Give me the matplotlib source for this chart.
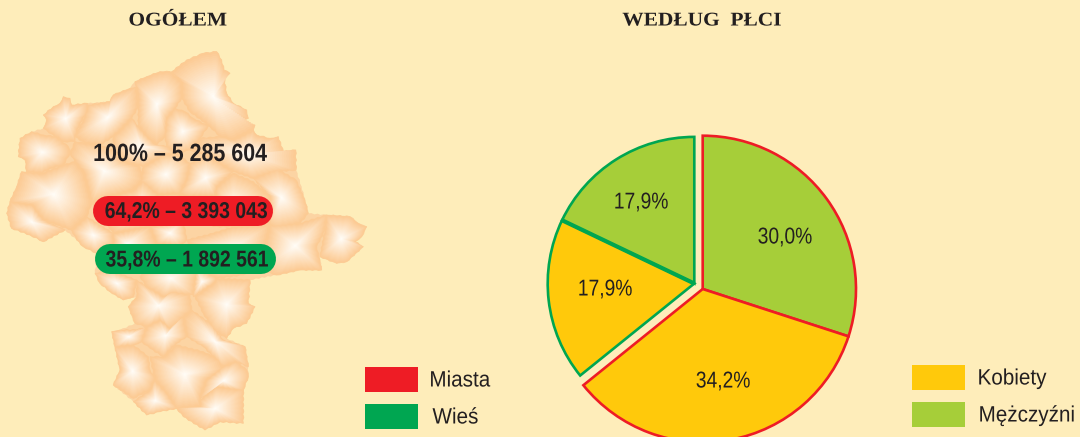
import matplotlib
matplotlib.use('Agg')
import matplotlib.pyplot as plt
import numpy as np
from matplotlib.patches import Polygon, Rectangle
from matplotlib.patheffects import AbstractPathEffect
from matplotlib.transforms import Affine2D

W, H = 1080, 437

# -- data ---------------------------------------------------------------
total_label = '100% – 5 285 604'
urban_label = '64,2% – 3 393 043'
rural_label = '35,8% – 1 892 561'

urban_shares = [30.0, 34.2]   # mezczyzni, kobiety
rural_shares = [17.9, 17.9]   # kobiety, mezczyzni

titles = ['OGÓŁEM', 'WEDŁUG  PŁCI']
legend_left = ['Miasta', 'Wieś']
legend_right = ['Kobiety', 'Mężczyźni']

# map traced at 3x zoom (x/3, y/3 + 40 gives pixels): the whole outline, then districts
outline = [(515,95),(560,60),(610,40),(650,35),(665,60),(672,90),(690,100),(672,110),(680,160),(700,190),(740,210),(745,235),(730,240),(735,255),(765,255),(760,270),(770,285),(810,295),(835,290),(850,335),(887,330),(888,390),(905,440),(925,520),(980,525),(1050,530),(1075,550),(1100,560),(1085,590),(1065,605),(1090,620),(1040,665),(1010,670),(960,650),(965,690),(900,690),(830,705),(750,720),(745,790),(765,800),(740,850),(700,865),(680,895),(735,920),(745,980),(745,1010),(730,1050),(730,1150),(660,1145),(615,1170),(550,1130),(530,1105),(480,1115),(440,1125),(400,1085),(340,1035),(360,990),(345,920),(335,875),(360,870),(405,850),(385,800),(410,770),(370,780),(330,755),(285,700),(290,640),(250,620),(230,600),(195,570),(130,605),(90,585),(35,565),(20,520),(30,485),(50,440),(65,395),(80,395),(75,360),(55,350),(60,295),(95,275),(130,265),(140,240),(130,225),(160,200),(180,190),(190,170),(210,175),(215,195),(262,190),(330,185),(340,165),(390,145),(405,125),(440,110),(480,95)]

districts = [
    [(515,95),(560,60),(610,40),(650,35),(665,60),(672,90),(690,100),(672,110),(680,160),(700,190),(740,210),(745,235),(730,240),(735,255),(765,255),(760,270),(700,300),(660,290),(630,260),(570,215),(545,175),(545,125)],
    [(570,330),(600,295),(660,290),(700,300),(760,270),(770,285),(810,295),(835,290),(850,335),(887,330),(888,390),(830,395),(760,415),(700,395),(660,370),(620,345)],
    [(405,125),(440,110),(480,95),(510,95),(545,125),(545,175),(525,205),(500,235),(495,290),(470,315),(445,295),(415,260),(415,160)],
    [(525,205),(555,215),(580,235),(625,258),(600,295),(570,330),(530,340),(500,320),(495,290),(500,235)],
    [(265,195),(330,185),(340,165),(390,145),(410,140),(415,200),(395,235),(360,270),(340,290),(300,315),(255,310),(225,290),(250,240)],
    [(130,225),(160,200),(180,190),(190,170),(210,175),(215,195),(262,190),(262,215),(240,250),(225,290),(225,305),(190,305),(165,290),(130,265),(140,240)],
    [(60,295),(95,275),(130,285),(170,290),(205,320),(210,340),(190,375),(150,385),(125,400),(80,395),(75,360),(55,350)],
    [(30,485),(95,495),(130,540),(170,560),(195,570),(130,605),(90,585),(35,565),(20,520)],
    [(65,395),(125,400),(190,375),(225,365),(250,395),(265,445),(275,490),(260,530),(215,570),(170,555),(130,540),(95,495),(30,485),(50,440)],
    [(360,270),(395,235),(415,260),(445,295),(470,315),(500,320),(530,340),(490,345),(430,380),(370,365),(340,330),(340,290)],
    [(225,305),(300,315),(340,330),(370,365),(420,380),(430,420),(400,450),(330,470),(275,490),(265,445),(250,395),(225,365),(210,340)],
    [(430,380),(490,345),(530,340),(570,370),(560,420),(540,460),(475,465),(440,440),(420,425)],
    [(570,370),(620,345),(660,370),(700,395),(650,440),(645,470),(560,470),(540,460),(560,420)],
    [(650,440),(700,400),(760,425),(810,470),(810,555),(700,560),(640,560),(560,510),(645,470)],
    [(760,415),(830,385),(888,420),(915,480),(925,520),(900,550),(830,565),(810,555),(810,470)],
    [(400,450),(430,420),(475,465),(540,460),(560,480),(550,540),(450,560),(340,580),(275,490),(330,470)],
    [(215,570),(260,530),(340,580),(340,610),(290,640),(250,620),(230,600)],
    [(340,580),(450,560),(470,610),(350,660),(290,640),(340,610)],
    [(450,560),(550,540),(560,600),(540,620),(470,610)],
    [(560,600),(640,580),(700,560),(810,555),(780,690),(730,705),(650,715),(590,680)],
    [(810,555),(900,550),(980,525),(975,570),(950,620),(965,690),(900,690),(830,705),(780,690)],
    [(980,525),(1050,530),(1075,550),(1100,560),(1085,590),(1065,605),(1090,620),(1040,665),(1010,670),(960,650),(975,570)],
    [(285,700),(330,690),(410,720),(400,770),(370,780),(330,755),(300,730)],
    [(470,660),(590,680),(580,765),(520,760),(490,770),(440,740),(420,710)],
    [(590,680),(650,715),(640,730),(580,770)],
    [(650,715),(750,720),(745,790),(765,800),(740,850),(700,865),(680,895),(640,870),(610,820),(585,770),(640,730)],
    [(410,720),(440,740),(490,770),(520,755),(570,765),(575,810),(530,850),(510,865),(480,840),(440,860),(405,850),(385,800),(410,770)],
    [(335,875),(360,870),(410,870),(440,860),(425,905),(400,915),(345,920)],
    [(575,810),(630,850),(670,900),(735,920),(745,980),(710,965),(670,980),(650,960),(610,920),(560,890),(550,830)],
    [(440,860),(480,840),(510,865),(550,830),(560,890),(530,910),(490,950),(450,925),(425,905)],
    [(345,920),(400,915),(445,950),(450,990),(465,1015),(450,1050),(400,1075),(340,1035),(360,990)],
    [(450,950),(490,950),(530,915),(610,935),(660,960),(670,985),(620,1020),(600,1070),(600,1100),(530,1105),(500,1060),(465,1020)],
    [(620,1020),(670,980),(710,965),(740,990),(745,1010),(730,1050),(715,1050),(650,1040),(600,1075)],
    [(465,1020),(500,1060),(530,1105),(480,1115),(440,1125),(400,1085),(450,1050)],
    [(600,1080),(650,1040),(730,1050),(730,1150),(660,1145),(615,1170),(550,1130),(530,1105),(600,1100)],
]

# -- colours ------------------------------------------------------------
BG = '#FEEDBA'
RED = '#EE1C25'
GREEN = '#00A651'
YELLOW = '#FFC90B'
LIME = '#A6CE39'
INK = '#231F20'
SANS = 'Liberation Sans'


class StretchX(AbstractPathEffect):
    # no narrow face installed, so squeeze the glyphs about the middle of the text
    def __init__(self, sx):
        super().__init__()
        self.sx = sx

    def draw_path(self, renderer, gc, tpath, affine, rgbFace=None):
        mid = tpath.get_extents().x0 + tpath.get_extents().width / 2
        squeeze = Affine2D().translate(-mid, 0).scale(self.sx, 1).translate(mid, 0)
        renderer.draw_path(gc, tpath, squeeze + affine, rgbFace)


def py(y):
    # picture rows count from the top, the axes from the bottom
    return H - y


def to_px(points):
    return np.array([(x / 3, py(y / 3 + 40)) for x, y in points], dtype=float)


def serrate(pts, step=3.0, amp=0.5):
    # the printed map has a saw-toothed border, add small teeth along each side
    out = []
    sign = 1
    for a, b in zip(pts, np.roll(pts, -1, axis=0)):
        d = b - a
        n = max(int(np.hypot(*d) / step), 1)
        normal = np.array([-d[1], d[0]]) / (np.hypot(*d) + 1e-9)
        for k in range(n):
            out.append(a + d * k / n + normal * amp * sign * (k > 0))
            sign = -sign
    return np.array(out)


fig = plt.figure(figsize=(W / 100, H / 100), dpi=100, facecolor=BG)
ax = fig.add_axes([0, 0, 1, 1])

# -- map: each district fades from orange at the edge to white inside ---
edge_rgb = np.array([252, 203, 148]) / 255
core_rgb = np.array([255, 254, 250]) / 255
steps = 22
ax.add_patch(Polygon(serrate(to_px(outline)), closed=True, facecolor=(0.99, 0.83, 0.64),
                     edgecolor='none', zorder=1))
for d in districts:
    ax.add_patch(Polygon(serrate(to_px(d)), closed=True, facecolor=edge_rgb,
                         edgecolor=edge_rgb, linewidth=0.6, zorder=2))
for d in districts:
    pts = serrate(to_px(d))
    centre = pts.mean(axis=0)
    for i in range(1, steps):
        t = i / (steps - 1)
        col = edge_rgb + (core_rgb - edge_rgb) * t
        ax.add_patch(Polygon(centre + (pts - centre) * (1 - t), closed=True,
                             facecolor=col, edgecolor='none', zorder=2))

# -- pills --------------------------------------------------------------
for x0, x1, yc, col in [(108, 258, 211, RED), (110, 261, 259, GREEN)]:
    ax.plot([x0, x1], [py(yc), py(yc)], color=col, linewidth=30 * 0.72,
            solid_capstyle='round', zorder=3)

for s, x, y, size, sx in [(total_label, 180, 154, 18, 0.857),
                          (urban_label, 186.5, 211.5, 16.5, 0.847),
                          (rural_label, 187, 260, 16.5, 0.847)]:
    ax.text(x, py(y), s, ha='center', va='center', fontsize=size, fontweight='bold',
            family=SANS, color=INK, zorder=4, path_effects=[StretchX(sx)])

# -- pies ---------------------------------------------------------------
urban_frac = [v / 100 for v in urban_shares]
rural_frac = [v / 100 for v in rural_shares]
ax.pie(urban_frac, colors=[LIME, YELLOW], startangle=90, counterclock=False,
       center=(702.7, py(289)), radius=153.3, normalize=False, frame=True,
       wedgeprops={'edgecolor': RED, 'linewidth': 1.9})
ax.pie(rural_frac, colors=[YELLOW, LIME],
       startangle=90 - 3.6 * sum(urban_shares), counterclock=False,
       center=(694.3, py(283.5)), radius=146.6, normalize=False, frame=True,
       wedgeprops={'edgecolor': GREEN, 'linewidth': 1.9})

# the border between the two rural wedges is drawn heavier
split = np.radians(90 - 3.6 * (sum(urban_shares) + rural_shares[0]))
ax.plot([694.3, 694.3 + 146.6 * np.cos(split)],
        [py(283.5), py(283.5) + 146.6 * np.sin(split)],
        color=GREEN, linewidth=3.0, solid_capstyle='butt', zorder=4)


def pct(v):
    return f'{v:.1f}'.replace('.', ',') + '%'


for v, x, y in [(urban_shares[0], 785, 237), (urban_shares[1], 723, 381),
                (rural_shares[0], 605, 289), (rural_shares[1], 641, 202)]:
    ax.text(x, py(y), pct(v), ha='center', va='center', fontsize=16.5,
            family=SANS, color=INK, zorder=5, path_effects=[StretchX(0.84)])

# -- titles and legends -------------------------------------------------
for s, x in zip(titles, [178, 702]):
    ax.text(x, py(21), s, ha='center', va='center', fontsize=14, fontweight='bold',
            family='Liberation Serif', color=INK, path_effects=[StretchX(1.1)])

for s, col, y0, tx in zip(legend_left, [RED, GREEN], [367, 404], [460, 455.5]):
    ax.add_patch(Rectangle((365, py(y0 + 25)), 53, 25, facecolor=col, edgecolor='none'))
    ax.text(tx, py(y0 + 14), s, ha='center', va='center', fontsize=16,
            family=SANS, color=INK, path_effects=[StretchX(0.93)])

for s, col, y0, tx in zip(legend_right, [YELLOW, LIME], [365, 402], [1012, 1027]):
    ax.add_patch(Rectangle((912, py(y0 + 25)), 53, 25, facecolor=col, edgecolor='none'))
    ax.text(tx, py(y0 + 14), s, ha='center', va='center', fontsize=16,
            family=SANS, color=INK, path_effects=[StretchX(0.93)])

ax.set_xlim(0, W)
ax.set_ylim(0, H)
ax.set_aspect('auto')
ax.axis('off')

fig.savefig('out.png', dpi=100, facecolor=BG)
